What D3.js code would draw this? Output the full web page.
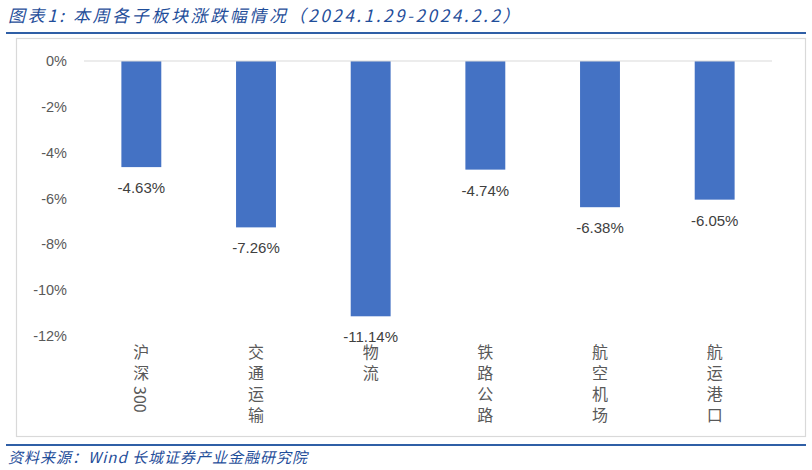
<!DOCTYPE html>
<html><head><meta charset="utf-8">
<script src="https://cdn.jsdelivr.net/npm/d3@7"></script>
<style>body{margin:0;background:#fff}svg{display:block}</style>
</head><body><svg id="c" width="812" height="470"></svg>
<script>
const categories = ["沪深300","交通运输","物流","铁路公路","航空机场","航运港口"];
const values = [-4.63,-7.26,-11.14,-4.74,-6.38,-6.05];
const yTicks = [0,-2,-4,-6,-8,-10,-12];
const title = "图表1:  本周各子板块涨跌幅情况（2024.1.29-2024.2.2）";
const source = "资料来源：Wind 长城证券产业金融研究院";

const svg = d3.select("#c");
const blue = "#1F4E9A";
// title
svg.append("text").attr("x",8).attr("y",22).attr("fill",blue)
  .attr("font-family","'Noto Sans CJK SC', sans-serif").attr("font-style","italic")
  .attr("font-size",17).attr("letter-spacing",2.6).text(title);
svg.append("line").attr("x1",6).attr("x2",806).attr("y1",33).attr("y2",33).attr("stroke","#2F5FA6").attr("stroke-width",2);
// frame
svg.append("rect").attr("x",16.5).attr("y",38.5).attr("width",789).attr("height",398).attr("fill","none").attr("stroke","#D9D9D9").attr("stroke-width",1.2);
svg.append("line").attr("x1",6).attr("x2",806).attr("y1",445).attr("y2",445).attr("stroke","#2F5FA6").attr("stroke-width",2);
svg.append("text").attr("x",8).attr("y",463).attr("fill",blue)
  .attr("font-family","'Noto Sans CJK SC', sans-serif").attr("font-style","italic")
  .attr("font-size",15).attr("letter-spacing",1.0).text(source);

const x = d3.scaleBand().domain(categories).range([84,772]).paddingInner(0.652).paddingOuter(0.326);
const y = d3.scaleLinear().domain([-12,0]).range([336,61]);

const yAxis = svg.append("g").attr("transform","translate(70,0)")
  .call(d3.axisLeft(y).tickValues(yTicks).tickSize(0).tickFormat(d=>d+"%"));
yAxis.select(".domain").remove();
yAxis.selectAll("text").attr("fill","#595959").attr("font-size",14.5)
  .attr("font-family","'Liberation Sans', Arial, sans-serif").attr("x",-3);

svg.selectAll("rect.bar").data(values).join("rect").attr("class","bar")
  .attr("x",(d,i)=>x(categories[i])).attr("width",x.bandwidth())
  .attr("y",y(0)).attr("height",d=>y(d)-y(0)).attr("fill","#4472C4");

svg.append("line").attr("x1",84).attr("x2",772).attr("y1",y(0)).attr("y2",y(0)).attr("stroke","#D9D9D9").attr("stroke-width",1.2);

svg.selectAll("text.val").data(values).join("text").attr("class","val")
  .attr("x",(d,i)=>x(categories[i])+x.bandwidth()/2).attr("y",d=>y(d)+26)
  .attr("text-anchor","middle").attr("fill","#404040").attr("font-size",15)
  .attr("font-family","'Liberation Sans', Arial, sans-serif").text(d=>d.toFixed(2)+"%");

const cats = svg.selectAll("text.cat").data(categories).join("text").attr("class","cat")
  .attr("x",d=>x(d)+x.bandwidth()/2).attr("y",344)
  .style("writing-mode","vertical-rl").attr("fill","#595959").attr("font-size",16)
  .attr("font-family","'Noto Sans CJK SC', sans-serif");
cats.each(function(d){
  const runs = d.match(/[\u4e00-\u9fff]+|[^\u4e00-\u9fff]+/g);
  const t = d3.select(this);
  runs.forEach(r=>{
    const cjk = /[\u4e00-\u9fff]/.test(r);
    t.append("tspan").attr("letter-spacing",cjk?5:0).text(r);
  });
});
</script></body></html>
